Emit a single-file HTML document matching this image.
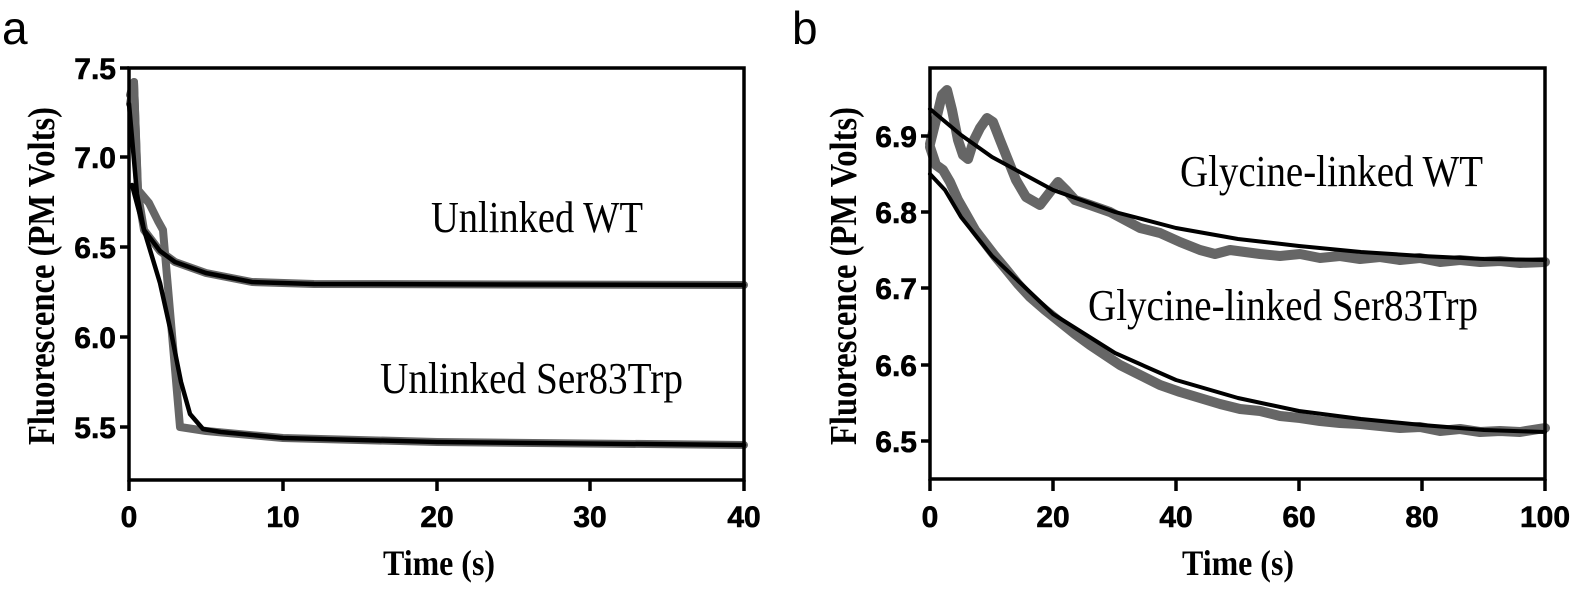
<!DOCTYPE html>
<html><head><meta charset="utf-8"><style>html,body{margin:0;padding:0;background:#fff}svg{display:block}</style></head>
<body>
<svg width="1575" height="589" viewBox="0 0 1575 589" xmlns="http://www.w3.org/2000/svg">
<rect width="1575" height="589" fill="#fff"/>
<text x="2" y="44" font-family="Liberation Sans, sans-serif" font-size="46" fill="#000">a</text>
<text x="792" y="44" font-family="Liberation Sans, sans-serif" font-size="46" fill="#000">b</text>

<!-- Panel a -->
<g fill="none" stroke-linejoin="round" stroke-linecap="round">
<polyline stroke="#666" stroke-width="8" points="130,95 134,82 138,194 144,230 160,251 175,262 206,273 252,282 314,284 744,285"/>
<polyline stroke="#666" stroke-width="8" points="130,104 134,82 138,190 149,203 158,221 163,230 180,427 206,431 283,438 437,442 744,445"/>
<polyline stroke="#000" stroke-width="4.5" points="129,104 137,194 144,230 160,251 175,262 206,273 252,282 314,284 744,285"/>
<polyline stroke="#000" stroke-width="4.5" points="132,185 144,230 160,283 172,337 181,382 190,414 203,429 221,432 283,438 437,442 744,445"/>
</g>
<g stroke="#000" stroke-width="3.5" fill="none">
<rect x="129" y="68" width="615" height="412"/>
<line x1="120" y1="68" x2="129" y2="68"/><line x1="120" y1="157" x2="129" y2="157"/><line x1="120" y1="247" x2="129" y2="247"/><line x1="120" y1="337" x2="129" y2="337"/><line x1="120" y1="427" x2="129" y2="427"/>
<line x1="129" y1="480" x2="129" y2="491"/><line x1="283" y1="480" x2="283" y2="491"/><line x1="437" y1="480" x2="437" y2="491"/><line x1="590" y1="480" x2="590" y2="491"/><line x1="744" y1="480" x2="744" y2="491"/>
</g>
<g font-family="Liberation Sans, sans-serif" font-weight="bold" font-size="30" fill="#000" stroke="#000" stroke-width="0.6" text-anchor="end">
<text x="116" y="79">7.5</text><text x="116" y="168">7.0</text><text x="116" y="258">6.5</text><text x="116" y="348">6.0</text><text x="116" y="438">5.5</text>
</g>
<g font-family="Liberation Sans, sans-serif" font-weight="bold" font-size="30" fill="#000" stroke="#000" stroke-width="0.6" text-anchor="middle">
<text x="129" y="527">0</text><text x="283" y="527">10</text><text x="437" y="527">20</text><text x="590" y="527">30</text><text x="744" y="527">40</text>
</g>
<text x="439" y="575" font-family="Liberation Serif, serif" font-weight="bold" font-size="36" text-anchor="middle" textLength="112" lengthAdjust="spacingAndGlyphs">Time (s)</text>
<text transform="translate(54,276) rotate(-90)" font-family="Liberation Serif, serif" font-weight="bold" font-size="38" text-anchor="middle" textLength="338" lengthAdjust="spacingAndGlyphs">Fluorescence (PM Volts)</text>
<text x="431" y="232" font-family="Liberation Serif, serif" font-size="44" textLength="212" lengthAdjust="spacingAndGlyphs">Unlinked WT</text>
<text x="380" y="393" font-family="Liberation Serif, serif" font-size="44" textLength="303" lengthAdjust="spacingAndGlyphs">Unlinked Ser83Trp</text>

<!-- Panel b -->
<g fill="none" stroke-linejoin="round" stroke-linecap="round">
<polyline stroke="#666" stroke-width="10" points="930,144 936,120 942,95 947,90 952,110 958,140 963,155 968,159 974,140 980,128 987,118 993,122 1000,140 1008,160 1016,180 1026,197 1040,205 1050,192 1058,182 1066,190 1075,200 1090,205 1110,212 1125,220 1140,228 1160,233 1180,242 1200,250 1215,254 1230,250 1245,252 1260,254 1280,256 1300,254 1320,258 1340,256 1360,259 1380,257 1400,260 1420,258 1440,262 1460,260 1480,262 1500,261 1520,263 1545,262"/>
<polyline stroke="#666" stroke-width="10" points="930,147 936,165 943,170 950,182 958,200 966,214 975,230 985,243 995,256 1005,268 1018,284 1030,297 1045,310 1060,322 1075,334 1090,345 1105,355 1120,365 1140,375 1160,385 1180,392 1200,398 1220,404 1240,409 1260,411 1280,416 1300,418 1320,421 1340,423 1360,424 1380,426 1400,428 1420,427 1440,431 1460,429 1480,432 1500,431 1520,432 1545,428"/>
<polyline stroke="#000" stroke-width="4" points="930,109 961,135 992,157 1053,190 1115,212 1176,228 1238,239 1299,246 1361,252 1422,256 1484,259 1545,260"/>
<polyline stroke="#000" stroke-width="4" points="930,174 945,190 961,217 992,256 1053,314 1115,353 1176,380 1238,398 1299,411 1361,419 1422,425 1484,430 1545,432"/>
</g>
<g stroke="#000" stroke-width="3.5" fill="none">
<rect x="930" y="68" width="615" height="411"/>
<line x1="921" y1="136" x2="930" y2="136"/><line x1="921" y1="212" x2="930" y2="212"/><line x1="921" y1="288" x2="930" y2="288"/><line x1="921" y1="365" x2="930" y2="365"/><line x1="921" y1="441" x2="930" y2="441"/>
<line x1="930" y1="479" x2="930" y2="491"/><line x1="1053" y1="479" x2="1053" y2="491"/><line x1="1176" y1="479" x2="1176" y2="491"/><line x1="1299" y1="479" x2="1299" y2="491"/><line x1="1422" y1="479" x2="1422" y2="491"/><line x1="1545" y1="479" x2="1545" y2="491"/>
</g>
<g font-family="Liberation Sans, sans-serif" font-weight="bold" font-size="30" fill="#000" stroke="#000" stroke-width="0.6" text-anchor="end">
<text x="917" y="147">6.9</text><text x="917" y="223">6.8</text><text x="917" y="299">6.7</text><text x="917" y="376">6.6</text><text x="917" y="452">6.5</text>
</g>
<g font-family="Liberation Sans, sans-serif" font-weight="bold" font-size="30" fill="#000" stroke="#000" stroke-width="0.6" text-anchor="middle">
<text x="930" y="527">0</text><text x="1053" y="527">20</text><text x="1176" y="527">40</text><text x="1299" y="527">60</text><text x="1422" y="527">80</text><text x="1545" y="527">100</text>
</g>
<text x="1238" y="575" font-family="Liberation Serif, serif" font-weight="bold" font-size="36" text-anchor="middle" textLength="112" lengthAdjust="spacingAndGlyphs">Time (s)</text>
<text transform="translate(856,276) rotate(-90)" font-family="Liberation Serif, serif" font-weight="bold" font-size="38" text-anchor="middle" textLength="338" lengthAdjust="spacingAndGlyphs">Fluorescence (PM Volts)</text>
<text x="1180" y="186" font-family="Liberation Serif, serif" font-size="44" textLength="303" lengthAdjust="spacingAndGlyphs">Glycine-linked WT</text>
<text x="1088" y="320" font-family="Liberation Serif, serif" font-size="44" textLength="390" lengthAdjust="spacingAndGlyphs">Glycine-linked Ser83Trp</text>
</svg>
</body></html>
